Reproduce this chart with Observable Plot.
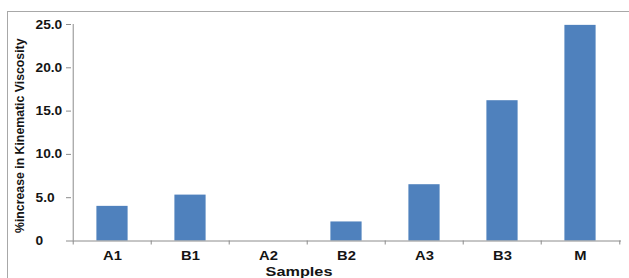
<!DOCTYPE html>
<html>
<head>
<meta charset="utf-8">
<script src="https://cdn.jsdelivr.net/npm/d3@7"></script>
<script src="https://cdn.jsdelivr.net/npm/@observablehq/plot@0.6"></script>
<style>
  html, body { margin: 0; padding: 0; background: #fff; overflow: hidden; }
  #wrap { position: relative; width: 629px; height: 278px; }
  #border { position: absolute; left: 7px; top: 11px; width: 700px; height: 400px;
            border: 1px solid #a8a8a8; box-sizing: border-box; }
  #chart { position: absolute; left: 0; top: 0; }
  #chart svg { font-family: "Liberation Sans", Arial, sans-serif; font-weight: bold; }
</style>
</head>
<body>
<div id="wrap"><div id="border"></div><div id="chart"></div></div>
<script>
const samples = ["A1", "B1", "A2", "B2", "A3", "B3", "M"];
const increase = [4.0, 5.3, 0, 2.2, 6.5, 16.2, 24.9];
const yTicks = [0, 5, 10, 15, 20, 25];
const yTickLabels = ["0", "5.0", "10.0", "15.0", "20.0", "25.0"];
const xTitle = "Samples";
const yTitle = "%increase in Kinematic Viscosity";

const data = samples.map((s, i) => ({sample: s, value: increase[i]}));

const W = 629, H = 278, ML = 71, MR = 8, MT = 24, MB = 37.5;
const step = (W - ML - MR) / samples.length;
const axisGray = "#8c8c8c";
const ink = "#141414";

const chart = Plot.plot({
  width: W, height: H,
  marginLeft: ML, marginRight: MR, marginTop: MT, marginBottom: MB,
  style: {fontFamily: "Liberation Sans, Arial, sans-serif", fontWeight: "bold", background: "transparent"},
  x: {type: "band", domain: samples, padding: 0, label: null},
  y: {domain: [0, 25], label: null},
  marks: [
    Plot.barY(data, {x: "sample", y: "value", fill: "#4f81bd", insetLeft: 23.4, insetRight: 23.4}),
    // y axis line
    Plot.ruleX([samples[0]], {x: d => d, dx: -step / 2, stroke: axisGray}),
    // x axis line
    Plot.ruleY([0], {stroke: axisGray}),
    // y ticks (marks) and labels
    Plot.axisY({ticks: yTicks, tickSize: 5, tickFormat: () => "", stroke: axisGray, label: null}),
    Plot.axisY({ticks: yTicks, tickSize: 0, tickPadding: 36, textAnchor: "start",
                tickFormat: d => yTickLabels[yTicks.indexOf(d)], fill: ink, fontSize: 12.5, label: null}),
    // x boundary ticks
    Plot.axisX({ticks: samples, tickSize: 4, tickFormat: () => "", dx: -step / 2, stroke: axisGray, label: null}),
    Plot.axisX({ticks: [samples[samples.length - 1]], tickSize: 4, tickFormat: () => "", dx: step / 2, stroke: axisGray, label: null}),
    // x tick labels
    Plot.axisX({ticks: samples, tickSize: 0, tickPadding: 10.5, fill: ink, fontSize: 12.5, label: null}),
    // titles
    Plot.text([xTitle], {frameAnchor: "bottom", text: d => d, textAnchor: "middle", dx: -47.5, dy: 30.5, lineAnchor: "middle",
                         fontSize: 12.5, fontWeight: "bold", fill: ink}),
    Plot.text([yTitle], {frameAnchor: "left", text: d => d, textAnchor: "middle", rotate: -90, dx: -51, dy: 3, lineAnchor: "middle",
                         fontSize: 12.3, fontWeight: "bold", fill: ink})
  ]
});

document.getElementById("chart").append(chart);

// widen glyphs horizontally to match the reference's stretched lettering
function stretch(sel, k) {
  chart.querySelectorAll(sel).forEach(t => {
    if (!t.textContent) return;
    const w = t.getComputedTextLength();
    t.setAttribute("textLength", w * k);
    t.setAttribute("lengthAdjust", "spacingAndGlyphs");
  });
}
stretch('g[aria-label="y-axis tick label"] text', 1.1);
stretch('g[aria-label="x-axis tick label"] text', 1.18);
chart.querySelectorAll("text").forEach(t => {
  if (t.textContent === xTitle) {
    const w = t.getComputedTextLength();
    t.setAttribute("textLength", w * 1.3);
    t.setAttribute("lengthAdjust", "spacingAndGlyphs");
  }
});
</script>
</body>
</html>
